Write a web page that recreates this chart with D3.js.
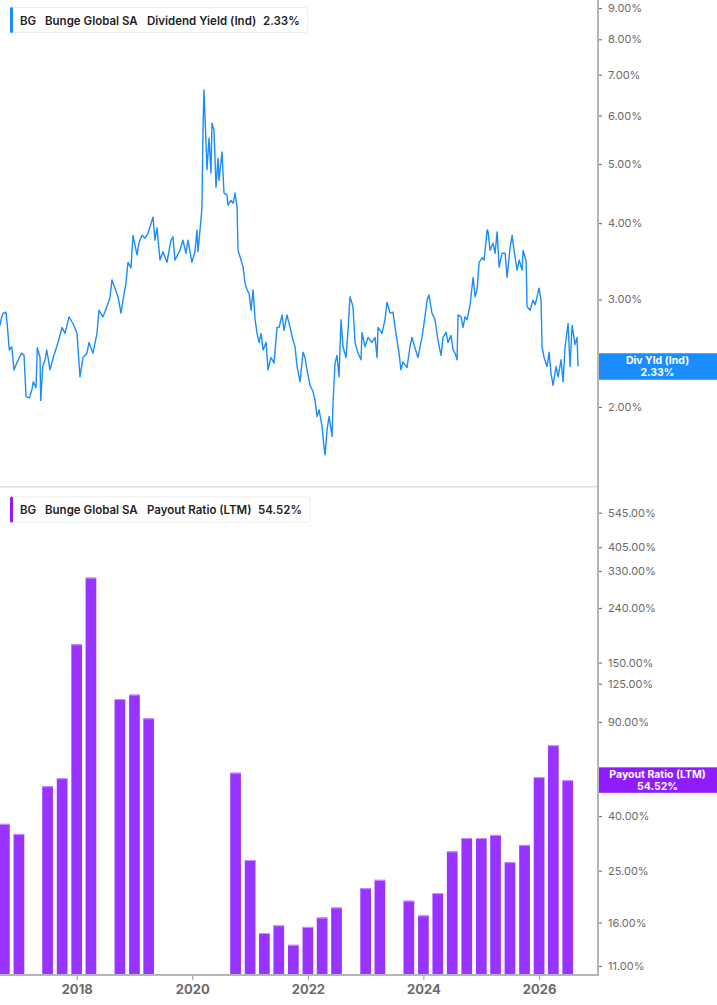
<!DOCTYPE html>
<html>
<head>
<meta charset="utf-8">
<script src="https://cdn.jsdelivr.net/npm/d3@7"></script>
<style>
  html, body { margin: 0; padding: 0; background: #fff; }
  svg { display: block; font-family: Inter, "Noto Sans", sans-serif; }
</style>
</head>
<body>
<div id="chart"></div>
<script>
// dividend yield (%), dates as decimal years
var yieldDates = [
  2016.673, 2016.702, 2016.730, 2016.760, 2016.777, 2016.799, 2016.834, 2016.875, 2016.915, 2016.962,
  2017.007, 2017.048, 2017.088, 2017.123, 2017.180, 2017.222, 2017.249, 2017.296, 2017.318, 2017.365,
  2017.377, 2017.412, 2017.452, 2017.481, 2017.538, 2017.595, 2017.682, 2017.746, 2017.798, 2017.867,
  2017.936, 2018.005, 2018.057, 2018.109, 2018.178, 2018.213, 2018.282, 2018.351, 2018.386, 2018.455,
  2018.525, 2018.576, 2018.611, 2018.663, 2018.715, 2018.767, 2018.801, 2018.853, 2018.888, 2018.940,
  2018.974, 2019.044, 2019.078, 2019.130, 2019.182, 2019.234, 2019.321, 2019.355, 2019.390, 2019.442,
  2019.494, 2019.563, 2019.632, 2019.667, 2019.701, 2019.788, 2019.840, 2019.892, 2019.926, 2019.995,
  2020.047, 2020.082, 2020.099, 2020.151, 2020.168, 2020.186, 2020.203, 2020.238, 2020.255, 2020.290,
  2020.324, 2020.341, 2020.376, 2020.411, 2020.445, 2020.463, 2020.514, 2020.549, 2020.601, 2020.618,
  2020.670, 2020.705, 2020.739, 2020.774, 2020.791, 2020.843, 2020.878, 2020.912, 2020.947, 2020.982,
  2021.016, 2021.051, 2021.086, 2021.120, 2021.155, 2021.189, 2021.224, 2021.276, 2021.310, 2021.362,
  2021.414, 2021.466, 2021.501, 2021.553, 2021.587, 2021.639, 2021.691, 2021.743, 2021.778, 2021.812,
  2021.864, 2021.916, 2021.951, 2021.985, 2022.037, 2022.089, 2022.124, 2022.158, 2022.193, 2022.245,
  2022.279, 2022.297, 2022.331, 2022.366, 2022.418, 2022.435, 2022.470, 2022.504, 2022.539, 2022.574,
  2022.608, 2022.660, 2022.695, 2022.729, 2022.781, 2022.816, 2022.868, 2022.920, 2022.937, 2022.989,
  2023.041, 2023.110, 2023.162, 2023.197, 2023.214, 2023.283, 2023.335, 2023.370, 2023.422, 2023.473,
  2023.525, 2023.577, 2023.612, 2023.647, 2023.716, 2023.768, 2023.802, 2023.854, 2023.906, 2023.975,
  2024.027, 2024.062, 2024.096, 2024.148, 2024.200, 2024.252, 2024.304, 2024.339, 2024.391, 2024.425,
  2024.477, 2024.512, 2024.546, 2024.581, 2024.598, 2024.650, 2024.685, 2024.719, 2024.754, 2024.806,
  2024.858, 2024.892, 2024.927, 2024.962, 2025.014, 2025.048, 2025.100, 2025.117, 2025.152, 2025.204,
  2025.238, 2025.273, 2025.308, 2025.360, 2025.412, 2025.446, 2025.498, 2025.533, 2025.567, 2025.619,
  2025.654, 2025.706, 2025.723, 2025.775, 2025.792, 2025.844, 2025.896, 2025.931, 2025.965, 2026.000,
  2026.034, 2026.052, 2026.086, 2026.138, 2026.173, 2026.207, 2026.242, 2026.294, 2026.329, 2026.381,
  2026.415, 2026.450, 2026.502, 2026.536, 2026.571, 2026.623, 2026.657, 2026.675
];
var yieldValues = [
  2.72, 2.81, 2.85, 2.85, 2.86, 2.72, 2.48, 2.51, 2.30, 2.36,
  2.41, 2.45, 2.43, 2.08, 2.07, 2.13, 2.20, 2.15, 2.50, 2.41,
  2.05, 2.33, 2.39, 2.48, 2.30, 2.41, 2.56, 2.70, 2.64, 2.81,
  2.74, 2.64, 2.24, 2.41, 2.45, 2.55, 2.45, 2.64, 2.88, 2.81,
  2.92, 3.02, 3.23, 3.13, 3.03, 2.85, 2.99, 3.19, 3.45, 3.38,
  3.82, 3.55, 3.71, 3.82, 3.78, 3.85, 4.09, 3.75, 3.93, 3.48,
  3.59, 3.45, 3.75, 3.80, 3.48, 3.61, 3.75, 3.57, 3.75, 3.45,
  3.59, 3.90, 3.59, 4.05, 4.25, 5.68, 6.61, 5.41, 4.89, 5.51,
  4.83, 5.83, 5.68, 4.58, 5.11, 4.70, 5.23, 4.48, 4.45, 4.28,
  4.36, 4.31, 4.48, 4.25, 3.61, 3.48, 3.39, 3.19, 3.11, 3.07,
  2.88, 3.11, 2.78, 2.64, 2.55, 2.64, 2.48, 2.55, 2.30, 2.41,
  2.36, 2.70, 2.70, 2.83, 2.67, 2.83, 2.70, 2.57, 2.51, 2.33,
  2.20, 2.46, 2.41, 2.30, 2.17, 2.12, 2.05, 1.93, 1.98, 1.86,
  1.72, 1.67, 1.83, 1.93, 1.79, 2.03, 2.36, 2.43, 2.24, 2.78,
  2.51, 2.41, 2.67, 3.03, 2.92, 2.55, 2.45, 2.39, 2.65, 2.51,
  2.60, 2.55, 2.60, 2.41, 2.70, 2.64, 2.78, 2.97, 2.85, 2.86,
  2.64, 2.45, 2.30, 2.37, 2.32, 2.51, 2.60, 2.50, 2.41, 2.60,
  2.81, 2.99, 3.05, 2.85, 2.78, 2.57, 2.43, 2.60, 2.65, 2.55,
  2.62, 2.48, 2.45, 2.39, 2.83, 2.81, 2.70, 2.81, 2.78, 2.94,
  3.26, 3.03, 3.11, 3.45, 3.51, 3.48, 3.90, 3.87, 3.61, 3.71,
  3.57, 3.87, 3.39, 3.57, 3.57, 3.26, 3.65, 3.82, 3.61, 3.35,
  3.48, 3.35, 3.61, 3.47, 2.92, 2.88, 2.99, 2.94, 3.03, 3.13,
  2.99, 2.51, 2.41, 2.33, 2.46, 2.27, 2.17, 2.33, 2.24, 2.39,
  2.20, 2.51, 2.74, 2.33, 2.72, 2.53, 2.60, 2.33
];

// payout ratio LTM (%), quarterly
var payoutQuarters = [
  "2016-10-01", "2017-01-01", "2017-07-01", "2017-10-01", "2018-01-01", "2018-04-01",
  "2018-10-01", "2019-01-01", "2019-04-01", "2020-10-01", "2021-01-01", "2021-04-01",
  "2021-07-01", "2021-10-01", "2022-01-01", "2022-04-01", "2022-07-01", "2023-01-01",
  "2023-04-01", "2023-10-01", "2024-01-01", "2024-04-01", "2024-07-01", "2024-10-01",
  "2025-01-01", "2025-04-01", "2025-07-01", "2025-10-01", "2026-01-01", "2026-04-01",
  "2026-07-01"
];
var payoutValues = [
  37.4, 34.3, 51.7, 55.4, 175.6, 311.6,
  109.6, 113.8, 92.8, 58.1, 27.4, 14.6,
  15.6, 13.2, 15.4, 16.7, 18.2, 21.5,
  23.1, 19.3, 17.0, 20.6, 29.5, 33.1,
  33.1, 34.0, 26.9, 31.2, 55.9, 73.6,
  54.52
];

var yieldTicks = [2, 3, 4, 5, 6, 7, 8, 9];
// 55% sits under the value tag, so it is left out
var payoutTicks = [11, 16, 25, 40, 90, 125, 150, 240, 330, 405, 545];
var yearTicks = [2018, 2020, 2022, 2024, 2026];

var svgWidth = 717;
var svgHeight = 1005;
var plotRight = 598;

var blue = "#1a8cff";
var purple = "#9933ff";
var axisGrey = "#b5b5b5";
var textGrey = "#6b6b6b";

function decYear(y) {
  var yr = Math.floor(y);
  var start = Date.UTC(yr, 0, 1), end = Date.UTC(yr + 1, 0, 1);
  return new Date(start + (y - yr) * (end - start));
}

var parseDate = d3.utcParse("%Y-%m-%d");

var svg = d3.select("#chart")
  .append("svg")
  .attr("width", svgWidth)
  .attr("height", svgHeight);

var x = d3.scaleUtc()
  .domain([decYear(2016.673), decYear(2027.02)])
  .range([0, plotRight]);

var yTop = d3.scaleLog().domain([2, 9]).range([407, 8]);
var yBot = d3.scaleLog().domain([11, 545]).range([966, 512.7]);

var defs = svg.append("defs");
defs.append("clipPath").attr("id", "clipTop")
  .append("rect").attr("x", 0).attr("y", 0).attr("width", plotRight).attr("height", 486);
defs.append("clipPath").attr("id", "clipBot")
  .append("rect").attr("x", 0).attr("y", 488).attr("width", plotRight).attr("height", 487);

// ---- top panel: dividend yield line
var yieldData = yieldDates.map(function(d, i) {
  return { date: decYear(d), value: yieldValues[i] };
});

var line = d3.line()
  .x(function(d) { return x(d.date); })
  .y(function(d) { return yTop(d.value); });

svg.append("path")
  .datum(yieldData)
  .attr("clip-path", "url(#clipTop)")
  .attr("fill", "none")
  .attr("stroke", blue)
  .attr("stroke-width", 1.4)
  .attr("stroke-linejoin", "round")
  .attr("d", line);

// divider between panels
svg.append("line")
  .attr("x1", 0).attr("x2", plotRight)
  .attr("y1", 486.7).attr("y2", 486.7)
  .attr("stroke", "#dedede")
  .attr("stroke-width", 1.5);

// ---- bottom panel: payout ratio bars
var payoutData = payoutQuarters.map(function(d, i) {
  return { date: parseDate(d), value: payoutValues[i] };
});

var barW = 10.7;
var baseY = 975;

var bars = svg.append("g").attr("clip-path", "url(#clipBot)");

bars.selectAll("rect.bar")
  .data(payoutData)
  .enter()
  .append("rect")
  .attr("class", "bar")
  .attr("x", function(d) { return x(d.date) - barW / 2; })
  .attr("y", function(d) { return yBot(d.value); })
  .attr("width", barW)
  .attr("height", function(d) { return baseY - yBot(d.value); })
  .attr("fill", purple);

bars.selectAll("rect.cap")
  .data(payoutData)
  .enter()
  .append("rect")
  .attr("class", "cap")
  .attr("x", function(d) { return x(d.date) - barW / 2; })
  .attr("y", function(d) { return yBot(d.value); })
  .attr("width", barW)
  .attr("height", 1)
  .attr("fill", "#c993ff");

// ---- right axis line (both panels)
svg.append("line")
  .attr("x1", plotRight).attr("x2", plotRight)
  .attr("y1", 0).attr("y2", baseY + 1)
  .attr("stroke", axisGrey)
  .attr("stroke-width", 2);

// bottom axis line
svg.append("line")
  .attr("x1", 0).attr("x2", plotRight + 1)
  .attr("y1", baseY).attr("y2", baseY)
  .attr("stroke", axisGrey)
  .attr("stroke-width", 2);

// right axis ticks
var fmt = function(v) { return d3.format(".2f")(v) + "%"; };

var topAxis = d3.axisRight(yTop)
  .tickValues(yieldTicks)
  .tickSize(3)
  .tickPadding(6)
  .tickFormat(fmt);

var botAxis = d3.axisRight(yBot)
  .tickValues(payoutTicks)
  .tickSize(3)
  .tickPadding(6)
  .tickFormat(fmt);

[topAxis, botAxis].forEach(function(ax) {
  var g = svg.append("g")
    .attr("transform", "translate(" + (plotRight + 1) + ",0)")
    .call(ax);
  g.select(".domain").remove();
  g.selectAll(".tick line").attr("stroke", "#777").attr("stroke-width", 1.2);
  g.selectAll(".tick text")
    .attr("fill", textGrey)
    .style("font-family", "Inter, sans-serif")
    .style("font-size", "11px");
});

// bottom time axis
var xAxis = d3.axisBottom(x)
  .tickValues(yearTicks.map(function(y) { return decYear(y); }))
  .tickSize(4)
  .tickPadding(5)
  .tickFormat(d3.utcFormat("%Y"));

var xg = svg.append("g")
  .attr("transform", "translate(0," + (baseY + 1) + ")")
  .call(xAxis);
xg.select(".domain").remove();
xg.selectAll(".tick line").attr("stroke", "#999");
xg.selectAll(".tick text")
  .attr("fill", textGrey)
  .style("font-family", "Inter, sans-serif")
  .style("font-size", "13px")
  .style("font-weight", "700");

// ---- last value labels on the axis
function valueTag(yPos, h, color, name, val) {
  var g = svg.append("g");
  g.append("rect")
    .attr("x", plotRight + 1)
    .attr("y", yPos - h / 2)
    .attr("width", svgWidth - plotRight - 1)
    .attr("height", h)
    .attr("fill", color);
  g.append("text")
    .attr("x", 657.5).attr("y", yPos - 2)
    .attr("text-anchor", "middle")
    .attr("fill", "#fff")
    .style("font-size", "10.5px")
    .style("font-weight", "700")
    .text(name);
  g.append("text")
    .attr("x", 657.5).attr("y", yPos + 9.5)
    .attr("text-anchor", "middle")
    .attr("fill", "#fff")
    .style("font-size", "10.5px")
    .style("font-weight", "700")
    .text(val);
}

var lastYield = yieldValues[yieldValues.length - 1];
var lastPayout = payoutValues[payoutValues.length - 1];
valueTag(yTop(lastYield), 26.5, blue, "Div Yld (Ind)", fmt(lastYield));
valueTag(yBot(lastPayout), 25.5, "#8f1cff", "Payout Ratio (LTM)", fmt(lastPayout));

// ---- legends
function legend(top, color, parts) {
  var g = svg.append("g");
  var box = g.append("rect")
    .attr("x", 10.5).attr("y", top + 0.5)
    .attr("rx", 3)
    .attr("height", 25)
    .attr("fill", "#fff")
    .attr("stroke", "#ebebeb");
  g.append("rect")
    .attr("x", 10).attr("y", top)
    .attr("width", 3).attr("height", 26)
    .attr("rx", 1.5)
    .attr("fill", color);
  var right = 0;
  parts.forEach(function(p) {
    var t = g.append("text")
      .attr("x", p[1]).attr("y", top + 17.5)
      .attr("fill", "#1f1f1f")
      .style("font-size", "11.5px")
      .style("font-weight", "600")
      .text(p[0]);
    right = Math.max(right, p[1] + t.node().getComputedTextLength());
  });
  box.attr("width", right + 8 - 10.5);
}

legend(7, blue, [["BG", 20], ["Bunge Global SA", 45], ["Dividend Yield (Ind)", 147], [fmt(lastYield), 263]]);
legend(496.5, "#8f1cff", [["BG", 20], ["Bunge Global SA", 45], ["Payout Ratio (LTM)", 147], [fmt(lastPayout), 258]]);
</script>
</body>
</html>
